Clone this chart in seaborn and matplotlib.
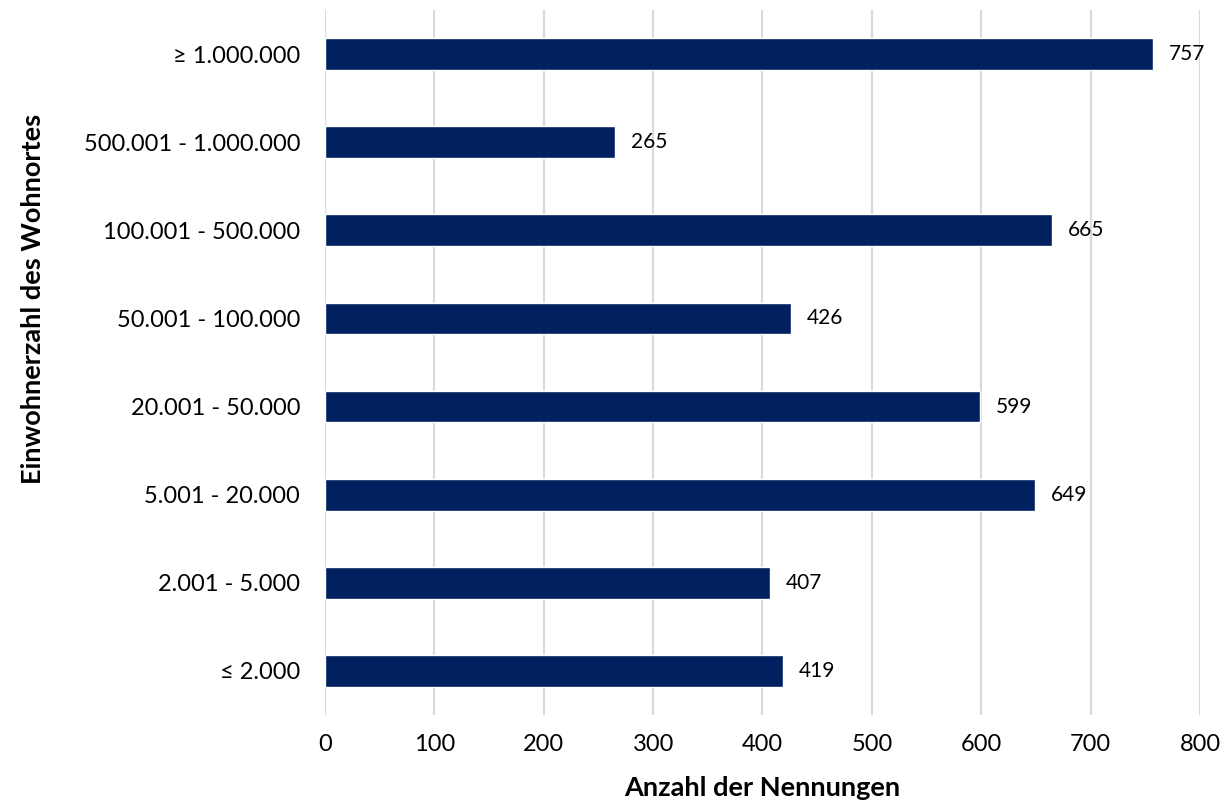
import matplotlib
matplotlib.use("Agg")
import matplotlib.pyplot as plt
import seaborn as sns
import pandas as pd

categories = [
    "≥ 1.000.000",
    "500.001 - 1.000.000",
    "100.001 - 500.000",
    "50.001 - 100.000",
    "20.001 - 50.000",
    "5.001 - 20.000",
    "2.001 - 5.000",
    "≤ 2.000",
]
counts = [757, 265, 665, 426, 599, 649, 407, 419]
x_ticks = [0, 100, 200, 300, 400, 500, 600, 700, 800]

sns.set_theme(style="white")
plt.rcParams["font.family"] = ["Lato", "DejaVu Sans"]

df = pd.DataFrame({"Kategorie": categories, "Anzahl": counts})

fig = plt.figure(figsize=(12.32, 8.08), dpi=100)
ax = fig.add_axes([0.2638, 0.1151, 0.974 - 0.2638, 0.9876 - 0.1151])

sns.barplot(data=df, y="Kategorie", x="Anzahl", orient="h", color="#002060",
            width=0.36, saturation=1, ax=ax, zorder=3)

ax.set_xlim(0, 800)
ax.set_xticks(x_ticks)
ax.set_xticklabels([str(t) for t in x_ticks])
ax.xaxis.grid(True, color="#d9d9d9", linewidth=1.5, zorder=0)
ax.yaxis.grid(False)
ax.set_axisbelow(True)
for s in ax.spines.values():
    s.set_visible(False)
ax.tick_params(axis="both", length=0, labelsize=17, colors="black")
ax.tick_params(axis="x", pad=14)
ax.tick_params(axis="y", pad=18)

for patch, v in zip(ax.patches, counts):
    ax.annotate(str(v), xy=(patch.get_width(), patch.get_y() + patch.get_height() / 2),
                xytext=(16, 0), textcoords="offset pixels",
                va="center", ha="left", fontsize=15, color="black")

ax.set_xlabel("Anzahl der Nennungen", fontsize=19.5, fontweight="bold", labelpad=15, color="black")
ax.set_ylabel("Einwohnerzahl des Wohnortes", fontsize=19.5, fontweight="bold", labelpad=28,
              color="black", y=0.59)

fig.savefig("out.png", dpi=100)
